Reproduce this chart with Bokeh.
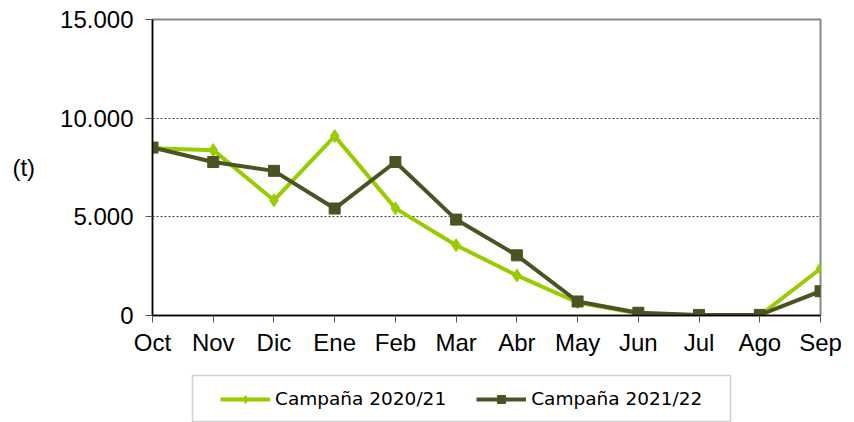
from bokeh.plotting import figure
from bokeh.layouts import column
from bokeh.models import FixedTicker, Legend, LegendItem, Range1d, ColumnDataSource, BoxAnnotation
from bokeh.embed import file_html
from bokeh.resources import INLINE

months = ["Oct", "Nov", "Dic", "Ene", "Feb", "Mar", "Abr", "May", "Jun", "Jul", "Ago", "Sep"]
campana_2020_21 = [8480, 8380, 5840, 9090, 5430, 3560, 2030, 660, 100, 0, 0, 2370]
campana_2021_22 = [8510, 7780, 7330, 5420, 7780, 4860, 3050, 710, 140, 30, 30, 1230]
y_ticks = [0, 5000, 10000, 15000]
y_tick_labels = ["0", "5.000", "10.000", "15.000"]

label_1 = "Campaña 2020/21"
label_2 = "Campaña 2021/22"
color_1 = "#99CC00"
color_2 = "#4B5323"

xs = list(range(len(months)))
src = ColumnDataSource(dict(x=xs, a=campana_2020_21, b=campana_2021_22))

W = 854
H_CHART = 362
H_LEG = 60
BL, BR = 152, 34

p = figure(width=W, height=H_CHART, output_backend="svg", toolbar_location=None,
           x_range=Range1d(0, len(months) - 1), y_range=Range1d(0, 15000),
           min_border_left=BL, min_border_right=BR, min_border_top=19, min_border_bottom=47)

p.outline_line_color = "#888888"
p.outline_line_width = 2
p.background_fill_color = "white"
p.border_fill_color = "white"

line_kw1 = dict(line_color=color_1, line_width=4, line_join="round")
mark_kw1 = dict(marker="diamond", size=13, fill_color=color_1, line_color=color_1)
line_kw2 = dict(line_color=color_2, line_width=4, line_join="round")
mark_kw2 = dict(marker="square", size=11, fill_color=color_2, line_color=color_2)

p.line("x", "a", source=src, **line_kw1)
p.scatter("x", "a", source=src, **mark_kw1)
p.line("x", "b", source=src, **line_kw2)
p.scatter("x", "b", source=src, **mark_kw2)

font = "Liberation Sans"
p.xaxis.ticker = FixedTicker(ticks=xs)
p.xaxis.major_label_overrides = {i: m for i, m in zip(xs, months)}
p.yaxis.ticker = FixedTicker(ticks=y_ticks)
p.yaxis.major_label_overrides = {t: l for t, l in zip(y_ticks, y_tick_labels)}

for ax in (p.xaxis[0], p.yaxis[0]):
    ax.axis_line_color = "black"
    ax.axis_line_width = 1.5
    ax.major_tick_line_color = "#555555"
    ax.major_tick_line_width = 1
    ax.major_tick_out = 7
    ax.major_tick_in = 0
    ax.minor_tick_line_color = None
    ax.major_label_text_font = font
    ax.major_label_text_font_size = "24px"
    ax.major_label_text_color = "black"

p.xaxis.major_label_standoff = 6
p.yaxis.major_label_standoff = 12
p.yaxis.axis_label = "(t)"
p.yaxis.axis_label_orientation = "horizontal"
p.yaxis.axis_label_text_font = font
p.yaxis.axis_label_text_font_size = "24px"
p.yaxis.axis_label_text_font_style = "normal"
p.yaxis.axis_label_text_color = "black"
p.yaxis.axis_label_standoff = 22

p.xgrid.grid_line_color = None
p.ygrid.ticker = FixedTicker(ticks=[5000, 10000])
p.ygrid.grid_line_color = "#444444"
p.ygrid.grid_line_width = 1
p.ygrid.grid_line_dash = "2 2"

# legend strip: frame aligned with the chart frame, ranges mapped to page pixels
p2 = figure(width=W, height=H_LEG, output_backend="svg", toolbar_location=None,
            x_range=Range1d(BL, W - BR), y_range=Range1d(H_LEG, 0),
            min_border_left=BL, min_border_right=BR,
            min_border_top=0, min_border_bottom=0)
p2.axis.visible = False
p2.grid.visible = False
p2.outline_line_color = None
p2.background_fill_color = "white"
p2.border_fill_color = "white"

# legend proxies (same data, fall outside this strip's ranges)
d1 = p2.line("x", "a", source=src, **line_kw1)
m1 = p2.scatter("x", "a", source=src, **mark_kw1)
d2 = p2.line("x", "b", source=src, **line_kw2)
m2 = p2.scatter("x", "b", source=src, **mark_kw2)

p2.add_layout(BoxAnnotation(left=192, right=730, top=13, bottom=59,
                            fill_color="white", fill_alpha=0,
                            line_color="#666666", line_width=1.5))

legend = Legend(items=[LegendItem(label=label_1, renderers=[d1, m1]),
                       LegendItem(label=label_2, renderers=[d2, m2])],
                orientation="horizontal", location=(220 - 12 - BL, 1), margin=0,
                padding=12, spacing=30, glyph_width=50, glyph_height=20,
                label_standoff=5, label_text_font="DejaVu Sans",
                label_text_font_size="18.5px", label_text_color="black",
                border_line_alpha=0, background_fill_alpha=0)
p2.add_layout(legend, "center")

layout = column(p, p2, spacing=0)
open("out.html", "w").write(file_html(layout, INLINE))
